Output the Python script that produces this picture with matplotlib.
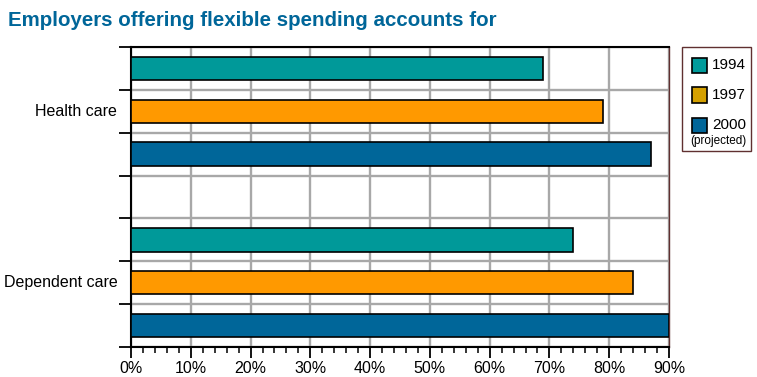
import matplotlib

matplotlib.use("Agg")

import matplotlib.pyplot as plt
import numpy as np
from matplotlib.patches import Rectangle

plt.rcParams["font.family"] = ["Liberation Sans", "DejaVu Sans"]

# Data
categories = ["Health care", "Dependent care"]
years = ["1994", "1997", "2000"]
values_1994 = [69, 74]
values_1997 = [79, 84]
values_2000 = [87, 90]
bar_colors = ["#009999", "#ff9900", "#006699"]
legend_colors = ["#009b9b", "#d4a000", "#006699"]
x_ticks = np.arange(0, 100, 10)
x_labels = [f"{t}%" for t in x_ticks]

W, H = 757, 377
fig = plt.figure(figsize=(W / 100, H / 100), dpi=100)
ax = fig.add_axes([131 / W, (H - 347) / H, (669 - 131) / W, (347 - 47) / H])

series = [values_1994, values_1997, values_2000]
group_start = [0, 4]
for i, vals in enumerate(series):
    ypos = [g + i + 0.5 for g in group_start]
    ax.barh(ypos, vals, height=0.55, color=bar_colors[i], edgecolor="black",
            linewidth=1.2, zorder=3)

ax.set_xlim(0, 90)
ax.set_ylim(7, 0)
ax.set_xticks(x_ticks)
ax.set_xticklabels(x_labels, fontsize=11.5)
ax.set_xticks(np.arange(0, 91, 2), minor=True)
ax.set_yticks(np.arange(0, 8))
ax.set_yticklabels([])
ax.tick_params(axis="x", which="major", length=8, width=1.3, direction="out", pad=2)
ax.tick_params(axis="x", which="minor", length=4, width=1.1, direction="out")
ax.tick_params(axis="y", which="major", length=9, width=1.3, direction="out")
ax.grid(True, which="major", color="#a8a8a8", linewidth=1.7, zorder=0)
ax.set_axisbelow(True)

for s in ["left", "bottom", "top"]:
    ax.spines[s].set_color("black")
    ax.spines[s].set_linewidth(1.5)
ax.spines["right"].set_color("#603030")
ax.spines["right"].set_linewidth(1.0)

# Category labels centred on each group
for g, name in zip(group_start, categories):
    ax.text(-2.3, g + 1.5, name, ha="right", va="center", fontsize=11.5)

# Title
fig.text(8 / W, 1 - 21 / H, "Employers offering flexible spending accounts for",
         fontsize=14.8, fontweight="bold", color="#006699", ha="left", va="center")

# Legend box drawn in figure pixels
def px(x, y):
    return x / W, 1 - y / H

lx0, ly0, lx1, ly1 = 682, 47, 751, 151
fig.add_artist(Rectangle(px(lx0, ly1), (lx1 - lx0) / W, (ly1 - ly0) / H,
                         transform=fig.transFigure, facecolor="white",
                         edgecolor="#603030", linewidth=1.0))
for k, (yr, col) in enumerate(zip(years, legend_colors)):
    cy = 65 + k * 30
    fig.add_artist(Rectangle(px(692, cy + 7.5), 15 / W, 15 / H,
                             transform=fig.transFigure, facecolor=col,
                             edgecolor="black", linewidth=1.2))
    fig.text(*px(712, cy), yr, fontsize=11, ha="left", va="center")
fig.text(*px(718, 141), "(projected)", fontsize=8.5, ha="center", va="center")

fig.savefig("out.png", dpi=100)
